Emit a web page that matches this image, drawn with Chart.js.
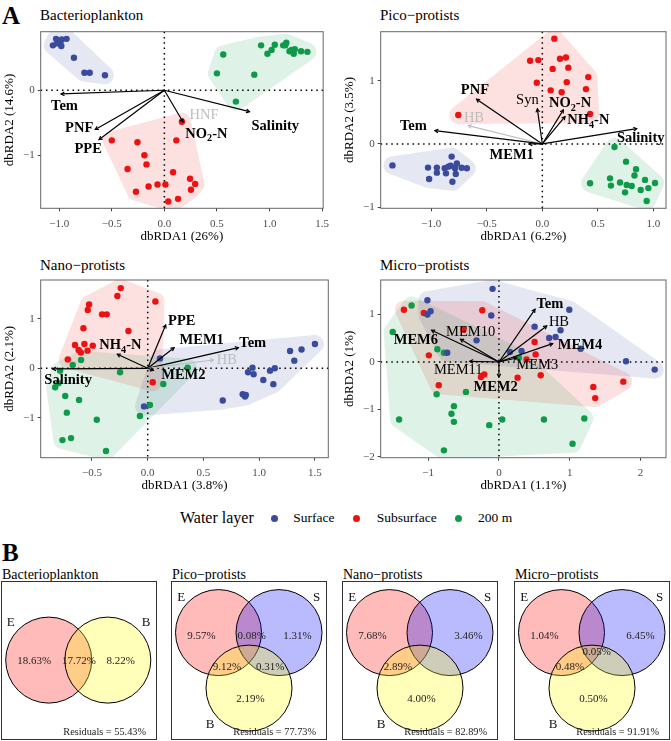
<!DOCTYPE html>
<html><head><meta charset="utf-8">
<script src="https://cdn.jsdelivr.net/npm/chart.js@4"></script>
<style>
body{margin:0;background:#fff;width:671px;height:741px;position:relative;overflow:hidden;font-family:"Liberation Serif","Times New Roman",serif;color:#000;}
canvas{position:absolute;}
.t{position:absolute;white-space:nowrap;line-height:1;}
.dot{position:absolute;width:7px;height:7px;border-radius:50%;}
</style></head><body>
<div class="t" style="left:2px;top:3px;font-size:25px;font-weight:bold;">A</div>
<div class="t" style="left:40px;top:8px;font-size:15px;">Bacterioplankton</div>
<div class="t" style="left:380px;top:8px;font-size:15px;">Pico−protists</div>
<div class="t" style="left:40px;top:258px;font-size:15px;">Nano−protists</div>
<div class="t" style="left:380px;top:258px;font-size:15px;">Micro−protists</div>
<canvas id="p1" width="335" height="232" style="left:0;top:20px;"></canvas>
<canvas id="p2" width="336" height="232" style="left:335px;top:20px;"></canvas>
<canvas id="p3" width="335" height="232" style="left:0;top:268px;"></canvas>
<canvas id="p4" width="336" height="232" style="left:335px;top:268px;"></canvas>
<div id="legend"></div>
<div class="t" style="left:2px;top:540px;font-size:25px;font-weight:bold;">B</div>
<div class="t" style="left:2px;top:568px;font-size:14px;">Bacterioplankton</div>
<div class="t" style="left:172px;top:568px;font-size:14px;">Pico−protists</div>
<div class="t" style="left:343px;top:568px;font-size:14px;">Nano−protists</div>
<div class="t" style="left:515px;top:568px;font-size:14px;">Micro−protists</div>
<canvas id="v1" width="156" height="159" style="left:1px;top:581px;"></canvas>
<canvas id="v2" width="156" height="159" style="left:171px;top:581px;"></canvas>
<canvas id="v3" width="156" height="159" style="left:342px;top:581px;"></canvas>
<canvas id="v4" width="156" height="159" style="left:514px;top:581px;"></canvas>
<script>
// ---------------- DATA ----------------
const layers = ['Surface', 'Subsurface', '200 m'];
const layerColors = ['#3a4a9c', '#ee1111', '#0f9a4a'];

// Bacterioplankton dbRDA site scores
const bactSurf = [[-1.06,0.69],[-1.03,0.79],[-1.01,0.75],[-0.99,0.73],[-0.975,0.78],[-0.93,0.79],[-0.98,0.68],[-1.02,0.72],[-0.86,0.50],[-0.76,0.27],[-0.71,0.27],[-0.565,0.23]];
const bactSub = [[0.167,-0.485],[-0.50,-0.77],[-0.256,-0.80],[-0.19,-1.0],[-0.17,-1.14],[-0.35,-1.21],[-0.15,-1.48],[-0.065,-1.45],[0.01,-1.45],[-0.27,-1.56],[0.083,-1.26],[0.114,-0.77],[0.244,-1.36],[0.293,-1.44],[0.253,-1.53],[0.13,-1.67],[0.037,-1.71]];
const bact200 = [[0.5,0.26],[0.56,0.55],[0.68,-0.175],[0.855,0.24],[0.92,0.69],[0.98,0.56],[1.02,0.62],[1.05,0.70],[1.13,0.69],[1.16,0.73],[1.15,0.69],[1.21,0.62],[1.23,0.56],[1.24,0.63],[1.30,0.60],[1.36,0.59],[1.19,0.60]];
const bactVecNames = ['Tem','PNF','PPE','NO_2-N','Salinity','HNF'];
const bactVecX = [-0.981,-0.657,-0.62,0.176,0.809,null];
const bactVecY = [-0.057,-0.603,-0.758,-0.485,-0.33,null];
const bactVecStyle = ['b','b','b','b','b','g'];
const bactLabX = [-0.95,-0.81,-0.725,0.40,1.055,0.377];
const bactLabY = [-0.242,-0.59,-0.91,-0.675,-0.55,-0.38];

// Pico-protists
const picoSurf = [[-1.35,-0.34],[-1.03,-0.375],[-1.02,-0.555],[-0.95,-0.375],[-0.95,-0.455],[-0.88,-0.386],[-0.817,-0.20],[-0.868,-0.466],[-0.847,-0.36],[-0.826,-0.344],[-0.787,-0.386],[-0.78,-0.476],[-0.81,-0.60],[-0.727,-0.376],[-0.68,-0.386],[-0.77,-0.31]];
const picoSub = [[0.108,1.67],[-0.11,1.32],[-0.036,1.33],[0.093,1.19],[0.159,1.35],[0.213,1.37],[0.234,1.21],[-0.05,0.97],[0.22,0.98],[0.075,0.85],[0.174,0.82],[0.414,1.06],[0.393,0.87],[0.43,0.476],[-0.757,0.46]];
const pico200 = [[0.65,-0.048],[0.754,-0.28],[0.844,-0.40],[0.83,-0.50],[0.925,-0.57],[1.015,-0.62],[0.955,-0.70],[0.886,-0.73],[0.94,-0.905],[0.61,-0.545],[0.618,-0.66],[0.70,-0.61],[0.745,-0.767],[0.76,-0.65],[0.805,-0.667],[0.43,-0.624]];
const picoVecNames = ['PNF','HB','Tem','Syn','NO_2-N','NH_4-N','Salinity','MEM1'];
const picoVecX = [-0.592,-0.667,-0.967,-0.045,0.189,0.204,0.85,-0.12];
const picoVecY = [0.709,0.291,0.212,0.556,0.54,0.434,0.243,0.0];
const picoVecStyle = ['b','g','b','n','b','b','b','b'];
const picoLabX = [-0.607,-0.616,-1.162,-0.135,0.25,0.414,0.886,-0.276];
const picoLabY = [0.857,0.407,0.286,0.70,0.645,0.37,0.09,-0.185];

// Nano-protists
const nanoSurf = [[1.50,0.49],[1.38,0.38],[1.277,0.35],[1.315,0.155],[1.14,0.0],[1.097,-0.047],[0.94,0.013],[0.90,-0.08],[0.95,-0.12],[1.037,-0.236],[1.127,-0.32],[0.852,-0.525],[0.873,-0.57],[0.88,-0.54],[0.673,-0.65],[-0.033,-0.77],[0.11,0.2]];
const nanoSub = [[-0.242,1.62],[-0.272,1.46],[0.069,1.35],[-0.526,1.29],[-0.538,1.18],[-0.41,1.09],[-0.368,1.09],[-0.577,0.81],[-0.173,0.754],[-0.652,0.47],[-0.568,0.49],[-0.493,0.458],[-0.62,0.37],[-0.60,0.32],[-0.54,0.357],[-0.717,0.18],[0.045,-0.283]];
const nano200 = [[-0.598,0.168],[-0.673,0.067],[-0.786,-0.047],[-0.248,-0.08],[0.359,0.013],[0.14,-0.317],[-0.83,-0.384],[-0.80,-0.30],[-0.74,-0.56],[-0.616,-0.64],[-0.726,-0.896],[-0.457,-1.04],[-0.07,-0.963],[0.02,-0.74],[-0.765,-1.45],[-0.688,-1.41],[-0.374,-1.67]];
const nanoVecNames = ['Salinity','NH_4-N','PPE','MEM1','Tem','HB','MEM2'];
const nanoVecX = [-0.852,-0.272,0.161,0.236,0.813,0.589,0.05];
const nanoVecY = [-0.013,0.283,0.875,0.417,0.417,0.168,-0.04];
const nanoVecStyle = ['b','b','b','b','b','g','b'];
const nanoLabX = [-0.714,-0.245,0.305,0.484,0.942,0.709,0.32];
const nanoLabY = [-0.236,0.46,0.956,0.572,0.505,0.155,-0.148];

// Micro-protists
const microSurf = [[-0.09,1.54],[-1.01,1.30],[-0.966,1.07],[-1.01,1.0],[-0.108,0.98],[0.994,1.10],[0.504,0.744],[0.87,0.667],[0.80,0.526],[0.71,0.505],[-0.316,0.456],[1.154,0.28],[-0.73,0.196],[0.155,0.21],[0.32,0.23],[1.795,0.014],[2.20,-0.16]];
const microSub = [[-1.342,1.10],[-1.06,1.03],[-0.235,1.09],[-0.50,0.68],[0.504,0.42],[0.518,0.16],[-0.99,0.14],[0.39,0.056],[-0.207,-0.26],[-0.254,-0.316],[0.264,-0.33],[0.59,-0.28],[-0.85,-0.49],[1.757,-0.414],[1.333,-0.526],[1.36,-0.76]];
const micro200 = [[-1.234,1.19],[-1.50,0.63],[-0.87,0.267],[-0.777,0.196],[0.283,0.09],[-0.88,-0.68],[-0.466,-0.63],[-0.636,-0.93],[-0.67,-1.09],[-0.636,-1.26],[-1.41,-1.21],[-0.137,-1.33],[0.047,-1.21],[0.636,-1.21],[1.206,-1.19],[1.04,-1.72],[-0.777,-1.86]];
const microVecNames = ['Tem','HB','MEM4','MEM3','MEM10','MEM6','MEM11','MEM2'];
const microVecX = [0.509,0.674,0.758,0.25,-0.542,-0.951,-0.41,0];
const microVecY = [1.109,0.758,0.386,0.084,0.477,0.667,0.014,-0.316];
const microVecStyle = ['b','n','b','n','n','b','n','b'];
const microLabX = [0.72,0.848,1.145,0.542,-0.40,-1.173,-0.575,-0.047];
const microLabY = [1.214,0.842,0.351,-0.07,0.618,0.456,-0.175,-0.54];

// Tick values and labels
const bactXTicks = [-1.0,-0.5,0.0,0.5,1.0,1.5];
const bactXTickLabels = ['−1.0','−0.5','0.0','0.5','1.0','1.5'];
const bactYTicks = [-1,0];
const bactYTickLabels = ['−1','0'];
const picoXTicks = [-1.0,-0.5,0.0,0.5,1.0];
const picoXTickLabels = ['−1.0','−0.5','0.0','0.5','1.0'];
const picoYTicks = [-1,0,1];
const picoYTickLabels = ['−1','0','1'];
const nanoXTicks = [-0.5,0.0,0.5,1.0,1.5];
const nanoXTickLabels = ['−0.5','0.0','0.5','1.0','1.5'];
const nanoYTicks = [-1,0,1];
const nanoYTickLabels = ['−1','0','1'];
const microXTicks = [-1,0,1,2];
const microXTickLabels = ['−1','0','1','2'];
const microYTicks = [-2,-1,0,1];
const microYTickLabels = ['−2','−1','0','1'];

// Variation partitioning (%)
const vennRegions = ['E','S','B','E∩S','E∩B','S∩B','E∩S∩B'];
const bactVennVals  = [18.63, null, 8.22, null, 17.72, null, null];
const picoVennVals  = [9.57, 1.31, 2.19, 0.08, 9.12, 0.31, null];
const nanoVennVals  = [7.68, 3.46, 4.00, null, 2.89, null, null];
const microVennVals = [1.04, 6.45, 0.50, null, 0.48, null, 0.05];
const vennResiduals = [55.43, 77.73, 82.89, 91.91];

// ---------------- RENDERING ----------------
const FONT = '"Liberation Serif","Times New Roman",serif';
Chart.defaults.font.family = FONT;

function drawRich(ctx, text, cx, cy, weight, size, color, align) {
  const parts = [];
  const re = /_(\w)/g; let last = 0, m;
  while ((m = re.exec(text))) {
    if (m.index > last) parts.push({t: text.slice(last, m.index)});
    parts.push({t: m[1], sub: true}); last = re.lastIndex;
  }
  if (last < text.length) parts.push({t: text.slice(last)});
  const f = s => `${weight} ${s}px ${FONT}`;
  let w = 0;
  parts.forEach(p => { ctx.font = f(p.sub ? size * 0.7 : size); p.w = ctx.measureText(p.t).width; w += p.w; });
  let x = align === 'right' ? cx - w : align === 'left' ? cx : cx - w / 2;
  ctx.fillStyle = color; ctx.textBaseline = 'middle'; ctx.textAlign = 'left';
  parts.forEach(p => { ctx.font = f(p.sub ? size * 0.7 : size); ctx.fillText(p.t, x, cy + (p.sub ? size * 0.32 : 0)); x += p.w; });
}

function convexHull(pts) {
  const p = pts.slice().sort((a, b) => a[0] - b[0] || a[1] - b[1]);
  if (p.length < 3) return p;
  const cross = (o, a, b) => (a[0]-o[0])*(b[1]-o[1]) - (a[1]-o[1])*(b[0]-o[0]);
  const lower = [], upper = [];
  for (const q of p) { while (lower.length >= 2 && cross(lower[lower.length-2], lower[lower.length-1], q) <= 0) lower.pop(); lower.push(q); }
  for (let i = p.length - 1; i >= 0; i--) { const q = p[i]; while (upper.length >= 2 && cross(upper[upper.length-2], upper[upper.length-1], q) <= 0) upper.pop(); upper.push(q); }
  upper.pop(); lower.pop();
  return lower.concat(upper);
}

const panelCfg = {};
const HULL_EXPAND = 9;

const rdaPlugin = {
  id: 'rda',
  beforeDatasetsDraw(chart) {
    const {ctx, chartArea: a, scales: {x, y}} = chart;
    const dpr = chart.currentDevicePixelRatio || 1;
    chart.data.datasets.forEach(ds => {
      const pts = ds.data.map(d => [x.getPixelForValue(d.x), y.getPixelForValue(d.y)]);
      const hull = convexHull(pts);
      const off = document.createElement('canvas');
      off.width = chart.canvas.width; off.height = chart.canvas.height;
      const o = off.getContext('2d');
      o.setTransform(dpr, 0, 0, dpr, 0, 0);
      o.fillStyle = o.strokeStyle = ds.backgroundColor;
      o.lineJoin = 'round'; o.lineWidth = 2 * HULL_EXPAND;
      o.beginPath();
      hull.forEach((q, k) => k ? o.lineTo(q[0], q[1]) : o.moveTo(q[0], q[1]));
      o.closePath(); o.fill(); o.stroke();
      ctx.save();
      ctx.beginPath(); ctx.rect(a.left, a.top, a.width, a.height); ctx.clip();
      ctx.setTransform(1, 0, 0, 1, 0, 0);
      ctx.globalAlpha = 0.13;
      ctx.drawImage(off, 0, 0);
      ctx.restore();
    });
    ctx.save();
    ctx.strokeStyle = '#000'; ctx.lineWidth = 1.5; ctx.setLineDash([1.5, 3.8]);
    const x0 = x.getPixelForValue(0), y0 = y.getPixelForValue(0);
    ctx.beginPath(); ctx.moveTo(a.left, y0); ctx.lineTo(a.right, y0); ctx.stroke();
    ctx.beginPath(); ctx.moveTo(x0, a.top); ctx.lineTo(x0, a.bottom); ctx.stroke();
    ctx.restore();
  },
  afterDatasetsDraw(chart) {
    const p = panelCfg[chart.canvas.id];
    const {ctx, scales: {x, y}} = chart;
    const x0 = x.getPixelForValue(0), y0 = y.getPixelForValue(0);
    ctx.save();
    p.vecNames.forEach((n, i) => {
      if (p.vecX[i] === null) return;
      const col = p.vecStyle[i] === 'g' ? '#bdbdbd' : '#000';
      const ex = x.getPixelForValue(p.vecX[i]), ey = y.getPixelForValue(p.vecY[i]);
      ctx.strokeStyle = col; ctx.lineWidth = 1.2; ctx.lineCap = 'round';
      ctx.beginPath(); ctx.moveTo(x0, y0); ctx.lineTo(ex, ey); ctx.stroke();
      const ang = Math.atan2(ey - y0, ex - x0), L = 3.2, A = Math.PI / 6;
      ctx.beginPath();
      ctx.moveTo(ex - L * Math.cos(ang - A), ey - L * Math.sin(ang - A));
      ctx.lineTo(ex, ey);
      ctx.lineTo(ex - L * Math.cos(ang + A), ey - L * Math.sin(ang + A));
      ctx.stroke();
    });
    p.vecNames.forEach((n, i) => {
      const st = p.vecStyle[i];
      const col = st === 'g' ? '#bdbdbd' : '#000';
      const wt = st === 'b' ? 'bold' : 'normal';
      drawRich(ctx, n, x.getPixelForValue(p.labX[i]), y.getPixelForValue(p.labY[i]), wt, 14.5, col, 'center');
    });
    ctx.restore();
  },
  afterDraw(chart) {
    const {ctx, chartArea: a} = chart;
    ctx.save(); ctx.strokeStyle = '#666'; ctx.lineWidth = 1;
    ctx.strokeRect(a.left, a.top, a.width, a.height);
    ctx.restore();
  }
};

function rdaPanel(id, p) {
  panelCfg[id] = p;
  const tickFont = {size: 11, family: FONT};
  const titleFont = {size: 13, family: FONT};
  return new Chart(document.getElementById(id), {
    type: 'scatter',
    data: {datasets: p.groups.map((g, i) => ({
      label: layers[i], data: g.map(([a, b]) => ({x: a, y: b})),
      backgroundColor: layerColors[i], borderColor: layerColors[i], borderWidth: 0,
      pointRadius: 3.2, pointHoverRadius: 3.2
    }))},
    options: {
      responsive: false, animation: false, events: [],
      layout: {autoPadding: false, padding: {top: p.padTop, right: p.padRight, left: 0, bottom: 0}},
      plugins: {legend: {display: false}, tooltip: {enabled: false}},
      scales: {
        x: {type: 'linear', min: p.xMin, max: p.xMax,
          afterBuildTicks: s => { s.ticks = p.xTicks.map(v => ({value: v})); },
          afterFit: s => { s.height = p.xH; },
          ticks: {callback: (v, i) => p.xTickLabels[i], font: tickFont, color: '#4d4d4d', padding: 6, maxRotation: 0, minRotation: 0, autoSkip: false},
          grid: {display: true, drawOnChartArea: false, drawTicks: true, tickLength: 3, color: '#444'},
          border: {display: false},
          title: {display: true, text: p.xTitle, font: titleFont, color: '#000', padding: {top: 0, bottom: p.xTitlePad}}},
        y: {type: 'linear', min: p.yMin, max: p.yMax,
          afterBuildTicks: s => { s.ticks = p.yTicks.map(v => ({value: v})); },
          afterFit: s => { s.width = p.yW; },
          ticks: {callback: (v, i) => p.yTickLabels[i], font: tickFont, color: '#4d4d4d', padding: 3, autoSkip: false},
          grid: {display: true, drawOnChartArea: false, drawTicks: true, tickLength: 3, color: '#444'},
          border: {display: false},
          title: {display: true, text: p.yTitle, font: titleFont, color: '#000', padding: {top: p.yTitlePad, bottom: 0}}}
      }
    },
    plugins: [rdaPlugin]
  });
}

rdaPanel('p1', {groups: [bactSurf, bactSub, bact200], xMin: -1.176, xMax: 1.51, yMin: -1.815, yMax: 0.90,
  xTicks: bactXTicks, xTickLabels: bactXTickLabels, yTicks: bactYTicks, yTickLabels: bactYTickLabels,
  xTitle: 'dbRDA1 (26%)', yTitle: 'dbRDA2 (14.6%)', padTop: 11.7, padRight: 6.7, xH: 43.7, yW: 40.7, xTitlePad: 7.5, yTitlePad: 2.2,
  vecNames: bactVecNames, vecX: bactVecX, vecY: bactVecY, vecStyle: bactVecStyle, labX: bactLabX, labY: bactLabY});
rdaPanel('p2', {groups: [picoSurf, picoSub, pico200], xMin: -1.456, xMax: 1.114, yMin: -1.02, yMax: 1.78,
  xTicks: picoXTicks, xTickLabels: picoXTickLabels, yTicks: picoYTicks, yTickLabels: picoYTickLabels,
  xTitle: 'dbRDA1 (6.2%)', yTitle: 'dbRDA2 (3.5%)', padTop: 11.7, padRight: 5, xH: 43.7, yW: 45.7, xTitlePad: 7.5, yTitlePad: 7.2,
  vecNames: picoVecNames, vecX: picoVecX, vecY: picoVecY, vecStyle: picoVecStyle, labX: picoLabX, labY: picoLabY});
rdaPanel('p3', {groups: [nanoSurf, nanoSub, nano200], xMin: -0.96, xMax: 1.62, yMin: -1.806, yMax: 1.784,
  xTicks: nanoXTicks, xTickLabels: nanoXTickLabels, yTicks: nanoYTicks, yTickLabels: nanoYTickLabels,
  xTitle: 'dbRDA1 (3.8%)', yTitle: 'dbRDA2 (2.1%)', padTop: 12, padRight: 6.7, xH: 42.3, yW: 40.7, xTitlePad: 6.2, yTitlePad: 2.2,
  vecNames: nanoVecNames, vecX: nanoVecX, vecY: nanoVecY, vecStyle: nanoVecStyle, labX: nanoLabX, labY: nanoLabY});
rdaPanel('p4', {groups: [microSurf, microSub, micro200], xMin: -1.67, xMax: 2.36, yMin: -2.015, yMax: 1.726,
  xTicks: microXTicks, xTickLabels: microXTickLabels, yTicks: microYTicks, yTickLabels: microYTickLabels,
  xTitle: 'dbRDA1 (1.1%)', yTitle: 'dbRDA2 (1%)', padTop: 12, padRight: 5, xH: 42.3, yW: 45.7, xTitlePad: 6.2, yTitlePad: 7.2,
  vecNames: microVecNames, vecX: microVecX, vecY: microVecY, vecStyle: microVecStyle, labX: microLabX, labY: microLabY});

// Legend (HTML)
(function () {
  const lg = document.getElementById('legend');
  const cy = 518;
  let h = `<div class="t" style="left:180px;top:${cy - 8}px;font-size:16px;">Water layer</div>`;
  const dotX = [274.3, 356.7, 458.3], txtX = [293.3, 376.7, 478];
  layers.forEach((l, i) => {
    h += `<div class="dot" style="left:${dotX[i] - 3.5}px;top:${cy - 3.5}px;background:${layerColors[i]};"></div>`;
    h += `<div class="t" style="left:${txtX[i]}px;top:${cy - 7}px;font-size:13.5px;">${l}</div>`;
  });
  lg.innerHTML = h;
})();

// ---------------- VENN ----------------
const VW = 156, VH = 159, VR = 43;
const circleFill = {E: 'rgba(255,0,0,0.27)', S: 'rgba(0,0,255,0.27)', B: 'rgba(255,255,0,0.27)'};
const layout2 = {circles: [['E', 47.7, 79.1], ['B', 106.8, 79.1]],
  setLab: {E: [9.7, 41.6], B: [145, 41.6]},
  regLab: {'E': [33.3, 80], 'E∩B': [78, 80], 'B': [119.7, 80]}};
const layout3 = {circles: [['E', 47.5, 51.6], ['S', 108, 51.6], ['B', 78, 107.1]],
  setLab: {E: [10.3, 16.6], S: [145.5, 16.6], B: [39.2, 143.3]},
  regLab: {'E': [30.5, 55], 'S': [126.5, 55], 'B': [79.5, 118.3], 'E∩S': [80.6, 55], 'E∩B': [56, 86], 'S∩B': [99.3, 86], 'E∩S∩B': [82.7, 71.6]}};

const vennCfg = {};
const vennPlugin = {
  id: 'venn',
  afterDraw(chart) {
    const v = vennCfg[chart.canvas.id];
    const {ctx, scales: {x, y}} = chart;
    ctx.save();
    ctx.strokeStyle = '#333'; ctx.lineWidth = 1;
    const L = x.getPixelForValue(0), T = y.getPixelForValue(0), R = x.getPixelForValue(VW), B = y.getPixelForValue(VH);
    ctx.strokeRect(L + 0.5, T + 0.5, R - L - 1, B - T - 1);
    Object.entries(v.layout.setLab).forEach(([k, pos]) => {
      drawRich(ctx, k, x.getPixelForValue(pos[0]), y.getPixelForValue(pos[1]), 'normal', 13, '#111', 'center');
    });
    vennRegions.forEach((r, i) => {
      const val = v.vals[i];
      if (val === null || !v.layout.regLab[r]) return;
      const pos = v.layout.regLab[r];
      drawRich(ctx, val.toFixed(2) + '%', x.getPixelForValue(pos[0]), y.getPixelForValue(pos[1]), 'normal', 11, '#222', 'center');
    });
    drawRich(ctx, 'Residuals = ' + v.resid.toFixed(2) + '%', x.getPixelForValue(145), y.getPixelForValue(151.6), 'normal', 10.3, '#222', 'right');
    ctx.restore();
  }
};

function vennPanel(id, vals, resid, layout) {
  vennCfg[id] = {vals, resid, layout};
  const n = layout.circles.length;
  new Chart(document.getElementById(id), {
    type: 'bubble',
    data: {datasets: layout.circles.map((c, i) => ({
      label: c[0], data: [{x: c[1], y: c[2], r: VR}],
      backgroundColor: circleFill[c[0]], borderColor: '#000', borderWidth: 1,
      hoverBackgroundColor: circleFill[c[0]], hoverBorderWidth: 1, hoverRadius: 0,
      order: n - i, clip: false
    }))},
    options: {
      responsive: false, animation: false, events: [],
      layout: {autoPadding: false, padding: 0},
      plugins: {legend: {display: false}, tooltip: {enabled: false}},
      scales: {x: {display: false, min: 0, max: VW}, y: {display: false, min: 0, max: VH, reverse: true}}
    },
    plugins: [vennPlugin]
  });
}
vennPanel('v1', bactVennVals, vennResiduals[0], layout2);
vennPanel('v2', picoVennVals, vennResiduals[1], layout3);
vennPanel('v3', nanoVennVals, vennResiduals[2], layout3);
vennPanel('v4', microVennVals, vennResiduals[3], layout3);
</script>
</body></html>
